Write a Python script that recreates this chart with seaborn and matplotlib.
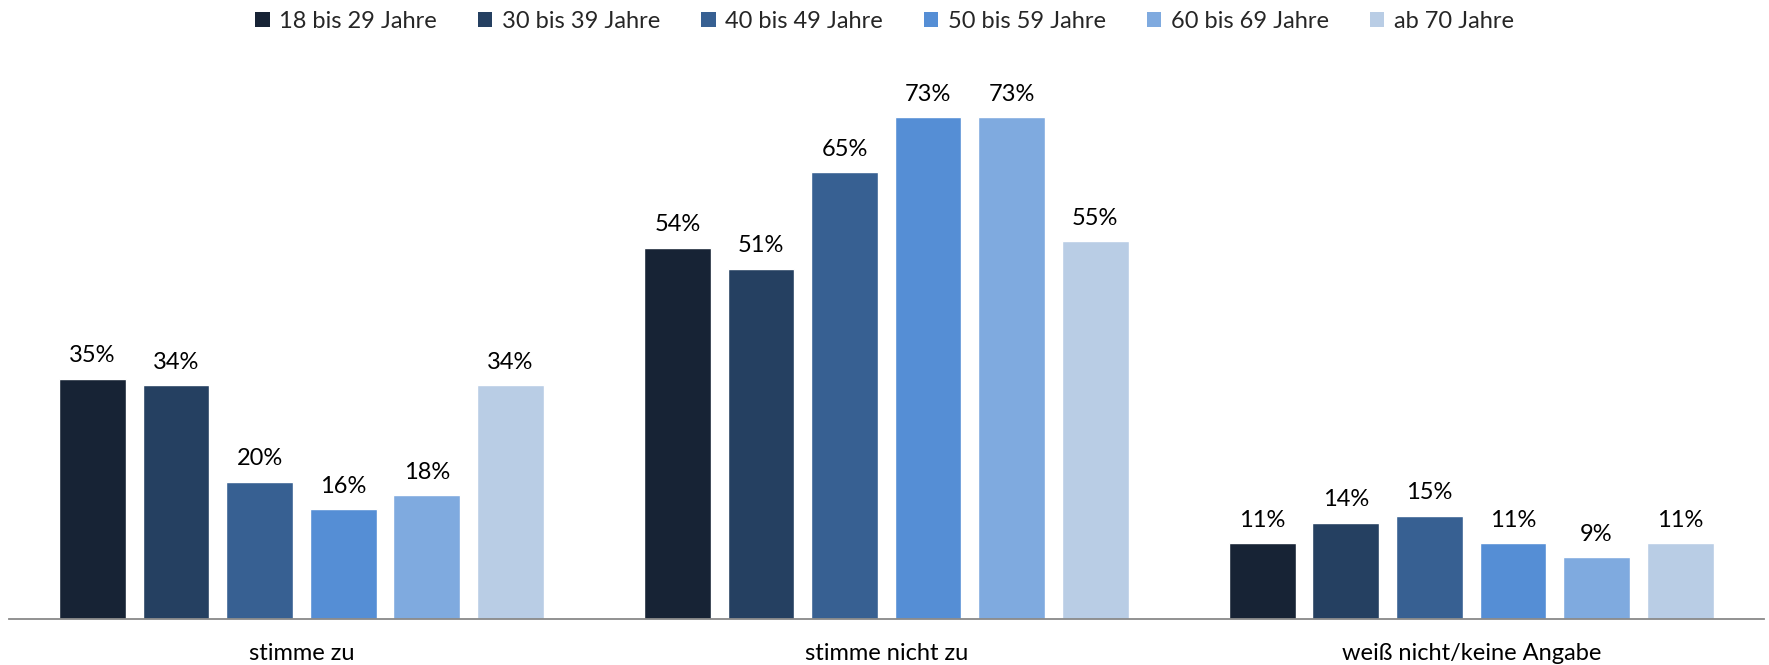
import matplotlib
matplotlib.use("Agg")
import matplotlib.pyplot as plt
import seaborn as sns
import pandas as pd
from matplotlib.patches import Patch

categories = ["stimme zu", "stimme nicht zu", "weiß nicht/keine Angabe"]
age_groups = ["18 bis 29 Jahre", "30 bis 39 Jahre", "40 bis 49 Jahre",
              "50 bis 59 Jahre", "60 bis 69 Jahre", "ab 70 Jahre"]
values = {
    "18 bis 29 Jahre": [35, 54, 11],
    "30 bis 39 Jahre": [34, 51, 14],
    "40 bis 49 Jahre": [20, 65, 15],
    "50 bis 59 Jahre": [16, 73, 11],
    "60 bis 69 Jahre": [18, 73, 9],
    "ab 70 Jahre": [34, 55, 11],
}
colors = ["#172335", "#254061", "#376092", "#558ED5", "#7FAADF", "#B9CDE5"]

rows = []
for g in age_groups:
    for c, v in zip(categories, values[g]):
        rows.append({"Antwort": c, "Alter": g, "Anteil": v})
df = pd.DataFrame(rows)

sns.set_theme(style="white")
plt.rcParams["font.family"] = ["Lato", "DejaVu Sans"]

fig = plt.figure(figsize=(17.69, 6.65), dpi=100)
ax = fig.add_axes([0.005, 0.069, 0.992, 0.827])

sns.barplot(data=df, x="Antwort", y="Anteil", hue="Alter",
            order=categories, hue_order=age_groups, palette=colors,
            width=0.857, gap=0.2, saturation=1, errorbar=None,
            legend=False, ax=ax)

for cont in ax.containers:
    ax.bar_label(cont, fmt="%g%%", padding=9, fontsize=17, color="#000000")

ax.set_xlim(-0.5, 2.5)
ax.set_ylim(0, 80)
ax.set_xlabel("")
ax.set_ylabel("")
ax.set_yticks([])
ax.tick_params(axis="x", length=0, pad=17, labelsize=17, labelcolor="#000000")
for s in ["top", "left", "right"]:
    ax.spines[s].set_visible(False)
ax.spines["bottom"].set_color("#898989")
ax.spines["bottom"].set_linewidth(1.3)

handles = [Patch(facecolor=c, edgecolor="none", label=g) for c, g in zip(colors, age_groups)]
fig.legend(handles=handles, loc="upper center", bbox_to_anchor=(0.5, 1.015),
           ncol=6, frameon=False, fontsize=17, handlelength=0.6,
           handleheight=0.6, handletextpad=0.4, columnspacing=1.75)

fig.savefig("out.png", dpi=100)
